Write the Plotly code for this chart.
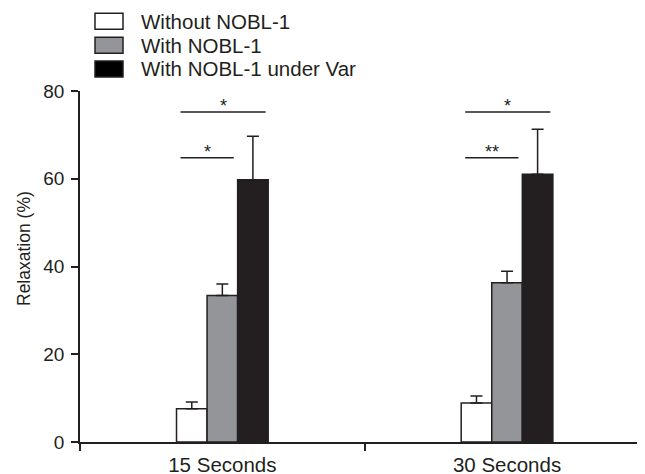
import plotly.graph_objects as go

categories = ["15 Seconds", "30 Seconds"]
series_names = ["Without NOBL-1", "With NOBL-1", "With NOBL-1 under Var"]
without_vals = [7.6, 8.9]
without_err = [1.5, 1.6]
with_vals = [33.4, 36.3]
with_err = [2.6, 2.6]
var_vals = [59.8, 61.0]
var_err = [9.9, 10.3]
y_ticks = [0, 20, 40, 60, 80]
sig_upper_labels = ["*", "*"]
sig_lower_labels = ["*", "**"]
sig_upper_y = 75.2
sig_lower_y = 64.8

INK = "#231f20"
FONT = "Liberation Sans, Arial, sans-serif"
fill_colors = ["#ffffff", "#939598", "#231f20"]
legend_colors = ["#ffffff", "#939598", "#000000"]

# page body has an 8px margin; compensate so screen coords match
OFF = 8
SW, SH = 645, 474
W, H = SW - OFF, SH - OFF
PLOT_L, PLOT_T, PLOT_B = 80, 91, 442  # screen px
ML, MR, MT = PLOT_L - OFF, 0, PLOT_T - OFF
MB = SH - PLOT_B
PW = W - ML - MR
PH = H - MT - MB

fig = go.Figure()
for name, vals, errs, col in zip(series_names, [without_vals, with_vals, var_vals],
                                 [without_err, with_err, var_err], fill_colors):
    fig.add_trace(go.Bar(
        x=categories, y=vals, name=name, showlegend=False,
        marker=dict(color=col, line=dict(color=INK, width=1.5)),
        error_y=dict(type="data", array=errs, arrayminus=[0] * len(errs), symmetric=False,
                     color=INK, thickness=1.5, width=6),
    ))

shapes = []
annotations = []
for i, (up, lo) in enumerate(zip(sig_upper_labels, sig_lower_labels)):
    x0 = i - 0.147
    x1u = i + 0.152
    x1l = i + 0.04
    shapes.append(dict(type="line", xref="x", yref="y", x0=x0, x1=x1u, y0=sig_upper_y, y1=sig_upper_y,
                       line=dict(color=INK, width=1.5)))
    shapes.append(dict(type="line", xref="x", yref="y", x0=x0, x1=x1l, y0=sig_lower_y, y1=sig_lower_y,
                       line=dict(color=INK, width=1.5)))
    annotations.append(dict(x=(x0 + x1u) / 2, y=sig_upper_y, xref="x", yref="y", text=up, showarrow=False,
                            yanchor="bottom", yshift=-6, font=dict(size=18, color=INK, family=FONT)))
    annotations.append(dict(x=(x0 + x1l) / 2, y=sig_lower_y, xref="x", yref="y", text=lo, showarrow=False,
                            yanchor="bottom", yshift=-6, font=dict(size=18, color=INK, family=FONT)))


def px_x(p):
    return (p - PLOT_L) / PW


def px_y(p):
    return (PLOT_B - p) / PH


legend_tops = [13.3, 37.3, 61]
for name, col, top in zip(series_names, legend_colors, legend_tops):
    shapes.append(dict(type="rect", xref="paper", yref="paper",
                       x0=px_x(95), x1=px_x(123), y0=px_y(top + 16), y1=px_y(top),
                       fillcolor=col, line=dict(color=INK, width=1.5)))
    annotations.append(dict(x=px_x(139), y=px_y(top + 8), xref="paper", yref="paper", text=name,
                            showarrow=False, xanchor="left", yanchor="middle",
                            font=dict(size=20.5, color=INK, family=FONT)))

annotations.append(dict(x=px_x(24), y=px_y(249), xref="paper", yref="paper", text="Relaxation (%)",
                        textangle=-90, showarrow=False, xanchor="center", yanchor="middle",
                        font=dict(size=17.5, color=INK, family=FONT)))

fig.update_layout(
    width=W, height=H,
    margin=dict(l=ML, r=MR, t=MT, b=MB, autoexpand=False),
    paper_bgcolor="white", plot_bgcolor="white",
    barmode="group", bargap=0.678, bargroupgap=0,
    font=dict(family=FONT, color=INK),
    shapes=shapes, annotations=annotations,
    xaxis=dict(type="category", range=[-0.5, 1.4846], showline=True, linecolor=INK, linewidth=1.5,
               ticks="outside", tickson="boundaries", ticklen=7, tickwidth=1.5, tickcolor=INK,
               tickfont=dict(size=20.5, color=INK, family=FONT), ticklabelstandoff=4,
               showgrid=False, zeroline=False, automargin=False),
    yaxis=dict(range=[0, 80], tickvals=y_ticks, showline=True, linecolor=INK, linewidth=1.5,
               ticks="outside", ticklen=7, tickwidth=1.5, tickcolor=INK,
               tickfont=dict(size=19, color=INK, family=FONT), ticklabelstandoff=3,
               showgrid=False, zeroline=False, automargin=False),
)

fig.write_html("out.html")
